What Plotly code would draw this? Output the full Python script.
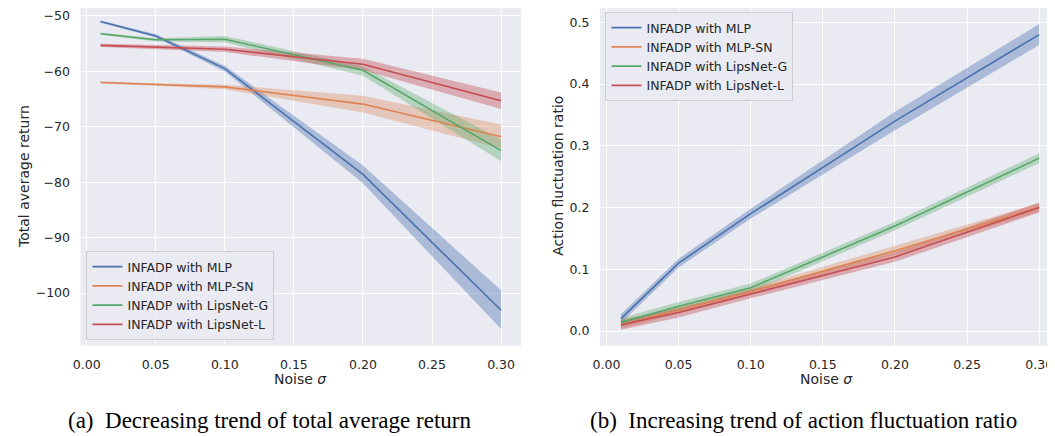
import plotly.graph_objects as go

noise = [0.01, 0.05, 0.10, 0.20, 0.30]
labels = ["INFADP with MLP", "INFADP with MLP-SN", "INFADP with LipsNet-G", "INFADP with LipsNet-L"]
colors = ["#4C72B0", "#DD8452", "#55A868", "#C44E52"]
band_colors = ["rgba(76,114,176,0.4)", "rgba(221,132,82,0.35)", "rgba(85,168,104,0.35)", "rgba(196,78,82,0.4)"]

# (a) Total average return: mean, lower, upper
ret_mlp = [-51.0, -53.6, -59.5, -78.6, -103.1]
ret_mlp_lo = [-51.2, -53.9, -60.0, -80.2, -106.5]
ret_mlp_hi = [-50.8, -53.3, -59.0, -77.0, -99.5]
ret_sn = [-62.0, -62.4, -62.8, -65.9, -71.8]
ret_sn_lo = [-62.2, -62.6, -63.2, -67.4, -73.9]
ret_sn_hi = [-61.8, -62.2, -62.4, -64.4, -69.6]
ret_g = [-53.2, -54.3, -54.2, -59.8, -74.3]
ret_g_lo = [-53.4, -54.6, -54.8, -60.8, -76.2]
ret_g_hi = [-53.0, -54.0, -53.6, -59.1, -72.3]
ret_l = [-55.3, -55.6, -56.0, -58.7, -65.3]
ret_l_lo = [-55.6, -56.0, -56.5, -59.8, -66.8]
ret_l_hi = [-55.0, -55.2, -55.5, -57.7, -63.8]

# (b) Action fluctuation ratio
afr_mlp = [0.020, 0.110, 0.190, 0.340, 0.480]
afr_mlp_lo = [0.013, 0.103, 0.182, 0.325, 0.463]
afr_mlp_hi = [0.027, 0.117, 0.198, 0.355, 0.497]
afr_sn = [0.010, 0.034, 0.064, 0.130, 0.200]
afr_sn_lo = [0.004, 0.028, 0.058, 0.123, 0.193]
afr_sn_hi = [0.016, 0.040, 0.070, 0.138, 0.207]
afr_g = [0.014, 0.040, 0.070, 0.170, 0.280]
afr_g_lo = [0.007, 0.033, 0.063, 0.163, 0.272]
afr_g_hi = [0.021, 0.047, 0.077, 0.177, 0.288]
afr_l = [0.010, 0.030, 0.060, 0.120, 0.200]
afr_l_lo = [0.002, 0.022, 0.053, 0.112, 0.192]
afr_l_hi = [0.018, 0.037, 0.067, 0.128, 0.208]

x_ticks = [0.00, 0.05, 0.10, 0.15, 0.20, 0.25, 0.30]
ret_ticks = [-100, -90, -80, -70, -60, -50]
afr_ticks = [0.0, 0.1, 0.2, 0.3, 0.4, 0.5]

ret_series = [(ret_mlp, ret_mlp_lo, ret_mlp_hi), (ret_sn, ret_sn_lo, ret_sn_hi),
              (ret_g, ret_g_lo, ret_g_hi), (ret_l, ret_l_lo, ret_l_hi)]
afr_series = [(afr_mlp, afr_mlp_lo, afr_mlp_hi), (afr_sn, afr_sn_lo, afr_sn_hi),
              (afr_g, afr_g_lo, afr_g_hi), (afr_l, afr_l_lo, afr_l_hi)]

fig = go.Figure()

def add_panel(series, xa, ya, legend):
    for i, (m, lo, hi) in enumerate(series):
        fig.add_trace(go.Scatter(
            x=noise + noise[::-1], y=hi + lo[::-1], fill="toself",
            fillcolor=band_colors[i], line=dict(width=0), mode="lines",
            hoverinfo="skip", showlegend=False, xaxis=xa, yaxis=ya))
    for i, (m, lo, hi) in enumerate(series):
        fig.add_trace(go.Scatter(
            x=noise, y=m, mode="lines", name=labels[i],
            line=dict(color=colors[i], width=1.6),
            xaxis=xa, yaxis=ya, legend=legend))

add_panel(ret_series, "x", "y", "legend")
add_panel(afr_series, "x2", "y2", "legend2")

# page body has an 8px margin; figure sized so the page area is filled
OFF = 8
W, H = 1055 - OFF, 436 - OFF

def px(x):
    return (x - OFF) / W

def py(y):
    return min(1.0, 1 - (y - OFF) / H)

tick_font = dict(family="DejaVu Sans", size=12.5, color="#262626")
title_font = dict(family="DejaVu Sans", size=14, color="#262626")
ydom = [py(345.7), 1.0]

axis_common = dict(showgrid=True, gridcolor="white", gridwidth=1.2, zeroline=False,
                   showline=False, tickfont=tick_font, ticks="outside", ticklen=7,
                   tickcolor="rgba(0,0,0,0)")

legend_common = dict(bgcolor="rgba(234,234,242,0.8)", bordercolor="#CCCCCC", borderwidth=1,
                     font=dict(family="DejaVu Sans", size=12.5, color="#262626"),
                     itemwidth=30, tracegroupgap=0)

fig.update_layout(
    width=W, height=H, margin=dict(l=0, r=0, t=0, b=0),
    paper_bgcolor="white", plot_bgcolor="#EAEAF2",
    xaxis=dict(domain=[px(73), px(517)], range=[-0.0045, 0.3145], tickvals=x_ticks,
               tickformat=".2f", anchor="y", **axis_common),
    yaxis=dict(domain=ydom, range=[-109.5, -48.56], tickvals=ret_ticks, anchor="x", **axis_common),
    xaxis2=dict(domain=[px(596.5), px(1053)], range=[-0.0045, 0.3096], tickvals=x_ticks,
                tickformat=".2f", anchor="y2", **axis_common),
    yaxis2=dict(domain=ydom, range=[-0.0238, 0.5231], tickvals=afr_ticks, tickformat=".1f",
                anchor="x2", **axis_common),
    legend=dict(x=px(79), y=py(340), xanchor="left", yanchor="bottom", **legend_common),
    legend2=dict(x=px(602), y=py(12), xanchor="left", yanchor="top", **legend_common),
    showlegend=True,
)

def note(text, x, y, font, angle=0):
    fig.add_annotation(text=text, x=px(x), y=py(y), xref="paper", yref="paper",
                       showarrow=False, font=font, textangle=angle,
                       xanchor="center", yanchor="middle")

note("Noise <i>σ</i>", 295, 379, title_font)
note("Noise <i>σ</i>", 825, 379, title_font)
note("Total average return", 16, 176, title_font, -90)
note("Action fluctuation ratio", 554, 176, title_font, -90)

cap_font = dict(family="Liberation Serif", size=23, color="black")
note("(a)\u2002Decreasing trend of total average return", 263, 420, cap_font)
note("(b)\u2002Increasing trend of action fluctuation ratio", 802, 420, cap_font)

fig.write_html("out.html")
